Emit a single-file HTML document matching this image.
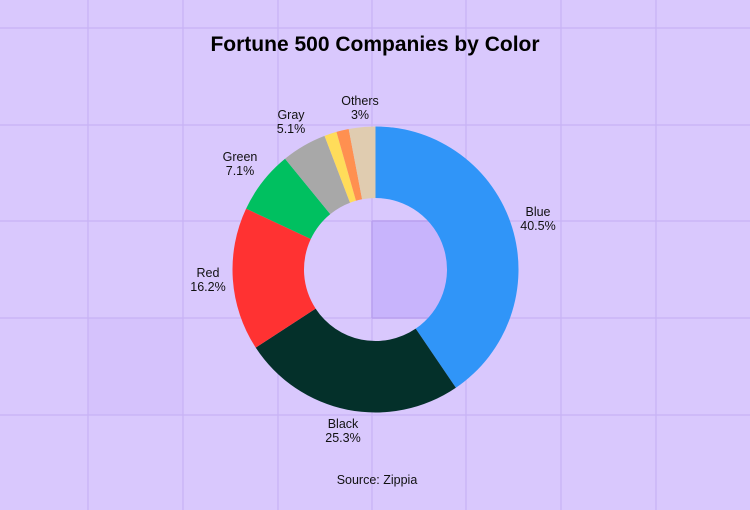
<!DOCTYPE html>
<html><head><meta charset="utf-8"><style>
html,body{margin:0;padding:0;background:#d9c8fd;}
svg{display:block;font-family:"Liberation Sans",sans-serif;}
</style></head><body>
<svg id="s" width="750" height="510" viewBox="0 0 750 510" xmlns="http://www.w3.org/2000/svg">
<rect width="750" height="510" fill="#d9c8fd"/>
<rect x="88" y="318" width="95" height="97" fill="#d5c2fc"/>
<rect x="372" y="221" width="94" height="97" fill="#c8b4fc"/>
<g stroke="#c8b2f5" stroke-width="1.2">
<line x1="88" y1="0" x2="88" y2="510"/><line x1="183" y1="0" x2="183" y2="510"/>
<line x1="278" y1="0" x2="278" y2="510"/><line x1="372" y1="0" x2="372" y2="510"/>
<line x1="466" y1="0" x2="466" y2="510"/><line x1="561" y1="0" x2="561" y2="510"/>
<line x1="656" y1="0" x2="656" y2="510"/>
<line x1="0" y1="28" x2="750" y2="28"/><line x1="0" y1="125" x2="750" y2="125"/>
<line x1="0" y1="221" x2="750" y2="221"/><line x1="0" y1="318" x2="750" y2="318"/>
<line x1="0" y1="415" x2="750" y2="415"/>
</g>
<g stroke="#b9a0f0" stroke-width="1.5">
<line x1="372" y1="221" x2="372" y2="318"/><line x1="372" y1="221" x2="466" y2="221"/><line x1="372" y1="318" x2="466" y2="318"/>
</g>
<g id="pie"></g>
<text x="375" y="51" text-anchor="middle" font-size="21" font-weight="bold" fill="#000">Fortune 500 Companies by Color</text>
<g font-size="12.5" fill="#111" text-anchor="middle">
<text x="538" y="216">Blue</text><text x="538" y="230">40.5%</text>
<text x="343" y="428">Black</text><text x="343" y="442">25.3%</text>
<text x="208" y="277">Red</text><text x="208" y="291">16.2%</text>
<text x="240" y="161">Green</text><text x="240" y="175">7.1%</text>
<text x="291" y="119">Gray</text><text x="291" y="133">5.1%</text>
<text x="360" y="105">Others</text><text x="360" y="119">3%</text>
<text x="377" y="484">Source: Zippia</text>
</g>
</svg>
<script>
var d=[[40.5,"#3095f8"],[25.3,"#04302a"],[16.2,"#ff3232"],[7.1,"#00c060"],[5.1,"#a8a8a8"],[1.4,"#ffdc5a"],[1.4,"#ff9050"],[3.0,"#e0ccb0"]];
var cx=375.5,cy=269.5,R=143,r=71.5,tot=0;d.forEach(function(x){tot+=x[0]});
var a=-Math.PI/2,g=document.getElementById("pie"),h="";
d.forEach(function(x){var b=a+x[0]/tot*2*Math.PI,l=(b-a)>Math.PI?1:0;
function p(rr,t){return (cx+rr*Math.cos(t)).toFixed(2)+","+(cy+rr*Math.sin(t)).toFixed(2);}
h+='<path fill="'+x[1]+'" d="M'+p(R,a)+'A'+R+','+R+' 0 '+l+' 1 '+p(R,b)+'L'+p(r,b)+'A'+r+','+r+' 0 '+l+' 0 '+p(r,a)+'Z"/>';a=b;});
g.innerHTML=h;
</script>
</body></html>
